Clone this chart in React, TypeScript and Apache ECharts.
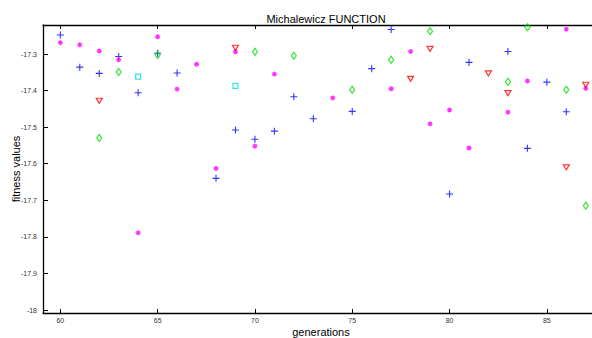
import React, { useEffect, useRef } from "react";
import * as echarts from "echarts";

// Tick positions on both axes
const xTicks = [60, 65, 70, 75, 80, 85];
const yTicks = [-18, -17.9, -17.8, -17.7, -17.6, -17.5, -17.4, -17.3];

// Blue "+" markers
const plusGen = [60, 61, 62, 63, 64, 65, 66, 68, 69, 70, 71, 72, 73, 75, 76, 77, 80, 81, 83, 84, 85, 86];
const plusVal = [
  -17.248, -17.336, -17.353, -17.307, -17.406, -17.298, -17.352, -17.64, -17.508, -17.533, -17.511,
  -17.417, -17.477, -17.457, -17.34, -17.233, -17.683, -17.323, -17.293, -17.558, -17.377, -17.458,
];

// Magenta "*" markers
const starGen = [60, 61, 62, 63, 64, 65, 66, 67, 68, 69, 70, 71, 74, 77, 78, 79, 80, 81, 83, 84, 86, 87];
const starVal = [
  -17.269, -17.275, -17.292, -17.316, -17.789, -17.253, -17.396, -17.328, -17.613, -17.294, -17.552,
  -17.355, -17.42, -17.395, -17.293, -17.491, -17.453, -17.557, -17.459, -17.374, -17.232, -17.394,
];

// Green diamond markers
const diamondGen = [62, 63, 65, 70, 72, 75, 77, 79, 83, 84, 86, 87];
const diamondVal = [
  -17.53, -17.349, -17.303, -17.294, -17.305, -17.398, -17.316, -17.238, -17.376, -17.227, -17.398, -17.715,
];

// Red down-triangle markers
const triangleGen = [62, 69, 78, 79, 82, 83, 86, 87];
const triangleVal = [-17.428, -17.283, -17.368, -17.286, -17.353, -17.407, -17.61, -17.384];

// Cyan square markers
const squareGen = [64, 69];
const squareVal = [-17.362, -17.387];

const pairs = (g: number[], v: number[]) => g.map((x, i) => [x, v[i]]);

const FONT = "Liberation Sans, Arial, sans-serif";

export default function App() {
  const ref = useRef<HTMLDivElement>(null);

  useEffect(() => {
    document.body.style.margin = "0";
    if (!ref.current) return;
    const chart = echarts.init(ref.current, null, { renderer: "svg" });

    const axisLine = { show: true, lineStyle: { color: "#000", width: 1.3 } };
    const tickStyle = { color: "#000", width: 1 };

    chart.setOption({
      animation: false,
      backgroundColor: "#fff",
      title: {
        text: "Michalewicz FUNCTION",
        left: 321,
        top: 8,
        textAlign: "center",
        textStyle: { fontFamily: FONT, fontSize: 11, fontWeight: "normal", color: "#000" },
      },
      grid: { left: 43, right: 0, top: 25, bottom: 25, containLabel: false, outerBoundsMode: "none" },
      xAxis: [
        {
          type: "value",
          position: "bottom",
          min: 59.11,
          max: 87.32,
          axisLine,
          axisTick: { show: true, inside: true, length: 4, customValues: xTicks, lineStyle: tickStyle },
          axisLabel: { customValues: xTicks, fontFamily: FONT, fontSize: 7, color: "#333", margin: 4 },
          splitLine: { show: false },
          name: "generations",
          nameLocation: "middle",
          nameGap: 13,
          nameMoveOverlap: false,
          nameTextStyle: { fontFamily: FONT, fontSize: 11, color: "#000", padding: [0, 0, 0, 7] },
        },
        {
          type: "value",
          position: "top",
          min: 59.11,
          max: 87.32,
          axisLine,
          axisTick: { show: true, inside: true, length: 4, customValues: xTicks, lineStyle: tickStyle },
          axisLabel: { show: false },
          splitLine: { show: false },
        },
      ],
      yAxis: {
        type: "value",
        min: -18.0082,
        max: -17.2207,
        axisLine,
        axisTick: { show: true, inside: true, length: 5, customValues: yTicks, lineStyle: tickStyle },
        axisLabel: {
          customValues: yTicks,
          fontFamily: FONT,
          fontSize: 7,
          color: "#333",
          margin: 6,
          formatter: (v: number) => String(Math.round(v * 10) / 10),
        },
        splitLine: { show: false },
        name: "fitness values",
        nameLocation: "middle",
        nameRotate: 90,
        nameGap: 22,
        nameMoveOverlap: false,
        nameTextStyle: { fontFamily: FONT, fontSize: 11, color: "#000" },
      },
      series: [
        {
          type: "scatter",
          data: pairs(plusGen, plusVal),
          symbol: "path://M0,5L10,5M5,0L5,10",
          symbolSize: 7,
          itemStyle: { color: "rgba(0,0,0,0)", borderColor: "#0000ff", borderWidth: 1.1 },
        },
        {
          type: "scatter",
          data: pairs(starGen, starVal),
          symbol: "path://M0,5L10,5M5,0L5,10M1.5,1.5L8.5,8.5M8.5,1.5L1.5,8.5",
          symbolSize: 5,
          itemStyle: { color: "rgba(0,0,0,0)", borderColor: "#ff00ff", borderWidth: 1.3 },
        },
        {
          type: "scatter",
          data: pairs(diamondGen, diamondVal),
          symbol: "diamond",
          symbolSize: [5, 7],
          itemStyle: { color: "rgba(0,0,0,0)", borderColor: "#00e000", borderWidth: 1.2 },
        },
        {
          type: "scatter",
          data: pairs(triangleGen, triangleVal),
          symbol: "triangle",
          symbolRotate: 180,
          symbolSize: [6, 5],
          itemStyle: { color: "rgba(0,0,0,0)", borderColor: "#ff0000", borderWidth: 1.2 },
        },
        {
          type: "scatter",
          data: pairs(squareGen, squareVal),
          symbol: "rect",
          symbolSize: 5,
          itemStyle: { color: "rgba(0,0,0,0)", borderColor: "#00dede", borderWidth: 1.2 },
        },
      ],
    });

    return () => chart.dispose();
  }, []);

  return <div ref={ref} style={{ width: 592, height: 338 }} />;
}
